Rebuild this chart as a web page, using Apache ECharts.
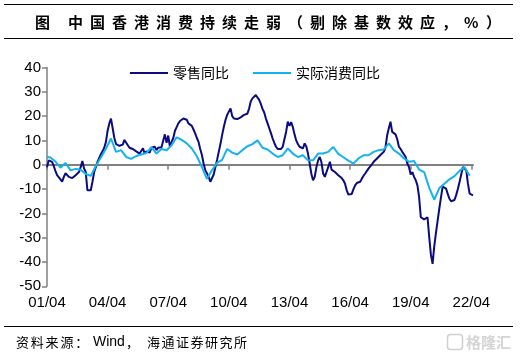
<!DOCTYPE html>
<html><head><meta charset="utf-8">
<script src="https://cdn.jsdelivr.net/npm/echarts/dist/echarts.min.js"></script>
<style>html,body{margin:0;padding:0;background:#fff}#c{width:523px;height:357px}</style>
</head><body><div id="c"></div>
<script>
// ---------- data ----------
const titleLead = '图';
const titleMain = '中国香港消费持续走弱（剔除基数效应，%）';
const sourceParts = ['资料来源：', 'Wind', '，', '海通证券研究所'];
const seriesNames = ['零售同比', '实际消费同比'];
const yTicks = [-50, -40, -30, -20, -10, 0, 10, 20, 30, 40];

// monthly categories 2001/04 .. 2022/05 (YY/MM)
const months = [];
for (let y = 2001, m = 4; y < 2022 || (y === 2022 && m <= 5); ) {
  months.push(String(y % 100).padStart(2, '0') + '/' + String(m).padStart(2, '0'));
  m++; if (m > 12) { m = 1; y++; }
}

// retail sales yoy (monthly, from 01/04)
const retail = [
  -1.0, 1.8, 2.0, 1.2, -0.5, -2.5, -4.3, -5.0, -6.0, -7.0,
  -5.0, -3.5, -3.2, -5.0, -5.7, -5.5, -4.8, -4.3, -3.8, -3.0,
  -1.0, 1.5, -1.5, -3.0, -10.5, -10.8, -10.5, -7.0, -3.0, -1.0,
  1.2, 2.8, 4.3, 5.5, 7.0, 9.4, 14.0, 17.0, 19.0, 15.0,
  11.0, 8.5, 8.0, 7.8, 7.5, 8.3, 10.2, 9.4, 8.0, 7.0,
  6.7, 6.5, 6.0, 5.5, 5.0, 4.6, 5.3, 6.8, 4.6, 5.5,
  6.0, 5.0, 7.0, 6.5, 7.4, 6.0, 7.0, 7.0, 7.2, 7.4,
  12.5, 9.0, 12.0, 7.4, 9.4, 11.0, 14.0, 15.5, 17.0, 18.0,
  18.5, 19.0, 19.8, 18.5, 17.0, 17.5, 16.0, 14.5, 12.9, 11.0,
  9.4, 6.5, 4.0, 0.5, -2.3, -3.5, -5.0, -7.0, -6.5, -4.0,
  -1.0, 2.0, 5.3, 8.5, 12.2, 15.5, 18.4, 20.5, 21.0, 23.2,
  20.0, 19.0, 18.4, 18.8, 19.0, 19.5, 19.0, 20.5, 19.8, 21.0,
  23.0, 26.0, 27.3, 28.0, 28.7, 28.3, 26.7, 25.0, 23.0, 21.5,
  19.0, 17.0, 15.0, 13.0, 10.8, 9.0, 7.4, 6.5, 6.0, 6.5,
  7.4, 10.5, 13.5, 17.7, 16.0, 17.5, 15.5, 12.5, 10.0, 8.5,
  7.4, 7.0, 6.7, 8.8, 7.5, 4.6, 0.5, -3.7, -6.4, -5.0,
  -1.0, 1.8, 3.2, 1.0, -3.6, -5.0, -3.0, -1.0, 1.2, -2.0,
  -1.2, -3.0, -3.6, -4.3, -5.0, -5.5, -6.4, -7.8, -10.5, -12.3,
  -12.6, -12.0, -10.0, -8.5, -7.5, -8.0, -7.0, -5.7, -4.5, -3.6,
  -2.5, -1.5, -0.9, 0.2, 1.2, 2.0, 2.6, 3.2, 4.0, 4.6,
  5.3, 7.0, 12.0, 15.0, 17.7, 13.5, 12.9, 12.5, 10.5, 7.4,
  6.5, 5.3, 4.5, 3.2, 0.5, -1.0, -4.0, -3.0, -5.0, -6.4,
  -8.5, -13.3, -21.6, -22.2, -22.5, -22.3, -21.6, -29.8, -37.0, -40.8,
  -33.5, -28.0, -23.0, -18.0, -13.3, -9.0, -8.9, -9.8, -12.0, -14.0,
  -15.0, -15.4, -14.5, -12.5, -10.0, -7.1, -4.0, -0.9, -0.3, -2.3,
  -7.8, -11.9, -12.3, -12.6
];

// real consumption yoy (quarterly, quarter-end months from 01/06; first point at 01/04)
const realStart = 3.2;
const realQ = [
  3.0, 1.3, -1.2, 0.7, -2.3, -1.7, -2.1, -3.8, -4.6, -0.5,
  3.0, 6.6, 10.8, 5.3, 6.0, 3.2, 2.4, 3.6, 4.2, 4.8,
  7.2, 4.6, 6.5, 6.0, 8.0, 11.3, 10.2, 8.8, 6.7, 3.5,
  -1.0, -5.8, -2.3, 0.8, 2.0, 6.5, 5.0, 4.2, 6.0, 7.6,
  8.5, 10.0, 7.0, 6.3, 4.6, 3.2, 3.9, 6.7, 4.6, 3.2,
  3.9, 1.8, 1.8, 4.6, 4.6, 5.3, 7.3, 4.5, 3.1, 1.7,
  0.5, 2.6, 3.9, 3.9, 5.3, 6.0, 6.3, 8.8, 6.0, 4.6,
  2.6, 1.2, 1.5, -2.0, -3.0, -9.5, -14.3, -9.6, -7.8, -6.0,
  -4.7, -2.5, -1.0, -4.5
];

// ---------- build ----------
const realData = [[months[0], realStart]];
realQ.forEach((v, k) => realData.push([months[2 + 3 * k], v]));

const showEvery = (i) => i % 36 === 0;
const CJK = '"Noto Sans CJK SC", sans-serif';
const LAT = '"Liberation Sans", Arial, sans-serif';
const DARK = '#0b0b80';
const LIGHT = '#14b2ee';

function spaced(str, x, y, pitch, style) {
  return Array.from(str).map((ch, i) => ({
    type: 'text', x: x + i * pitch, y: y, silent: true,
    style: Object.assign({ text: ch, align: 'left', verticalAlign: 'middle', fill: '#000' }, style)
  }));
}

const titleStyle = { fontSize: 15, fontWeight: 'bold', fontFamily: CJK };
const srcStyle = { fontSize: 13, fontFamily: CJK };

const graphics = [].concat(
  [
    { type: 'line', shape: { x1: 4, y1: 4.5, x2: 513, y2: 4.5 }, style: { stroke: '#000', lineWidth: 1.2 } },
    { type: 'line', shape: { x1: 4, y1: 38.5, x2: 513, y2: 38.5 }, style: { stroke: '#000', lineWidth: 1.2 } },
    { type: 'line', shape: { x1: 4, y1: 326.5, x2: 513, y2: 326.5 }, style: { stroke: '#000', lineWidth: 1.2 } }
  ],
  spaced(titleLead, 35, 22.5, 22, titleStyle),
  spaced(titleMain, 68, 22.5, 22, titleStyle),
  spaced(sourceParts[0], 16, 342, 14.8, srcStyle),
  [{ type: 'text', x: 93, y: 342, silent: true,
     style: { text: sourceParts[1], fontSize: 14, fontFamily: LAT, fill: '#000', align: 'left', verticalAlign: 'middle' } }],
  spaced(sourceParts[2], 126, 342, 14.5, srcStyle),
  spaced(sourceParts[3], 147, 342, 14.5, srcStyle),
  [
    { type: 'rect', shape: { x: 447.5, y: 334.5, width: 15, height: 15, r: 3 },
      style: { fill: 'none', stroke: '#cfcfcf', lineWidth: 1.5 } },
    { type: 'text', x: 466, y: 342, silent: true,
      style: { text: '格隆汇', fontSize: 15, fontWeight: 'bold', fontFamily: CJK, fill: '#d4d4d4', align: 'left', verticalAlign: 'middle' } }
  ]
);

const chart = echarts.init(document.getElementById('c'), null, { renderer: 'canvas' });
chart.setOption({
  animation: false,
  backgroundColor: '#fff',
  grid: { left: 47, top: 67.5, width: 426, height: 218.8, containLabel: false },
  legend: {
    data: [
      { name: seriesNames[0], icon: 'rect', itemStyle: { color: DARK } },
      { name: seriesNames[1], icon: 'rect', itemStyle: { color: LIGHT } }
    ],
    left: 125, top: 61,
    itemWidth: 38, itemHeight: 2, itemGap: 24,
    textStyle: { fontSize: 14, fontFamily: CJK, color: '#000' }
  },
  xAxis: [
    {
      type: 'category', data: months, boundaryGap: false,
      axisLine: { onZero: true, lineStyle: { color: '#808080', width: 2 } },
      axisTick: { show: true, interval: (i) => showEvery(i), length: 5, lineStyle: { color: '#808080', width: 1.5 } },
      axisLabel: { show: false },
      splitLine: { show: false }
    },
    {
      type: 'category', data: months, boundaryGap: false, position: 'bottom',
      axisLine: { show: false, onZero: false },
      axisTick: { show: false },
      axisLabel: { show: true, interval: (i) => showEvery(i), fontSize: 15, fontFamily: LAT, color: '#000', margin: 9 },
      splitLine: { show: false }
    }
  ],
  yAxis: {
    type: 'value', min: yTicks[0], max: yTicks[yTicks.length - 1], interval: 10,
    axisLine: { show: true, lineStyle: { color: '#808080', width: 1.5 } },
    axisTick: { show: true, length: 5, lineStyle: { color: '#808080', width: 1.5 } },
    axisLabel: { fontSize: 15, fontFamily: LAT, color: '#000', margin: 6 },
    splitLine: { show: false }
  },
  series: [
    { name: seriesNames[0], type: 'line', data: retail, symbol: 'none',
      lineStyle: { color: DARK, width: 2 }, itemStyle: { color: DARK } },
    { name: seriesNames[1], type: 'line', data: realData, symbol: 'none',
      lineStyle: { color: LIGHT, width: 2 }, itemStyle: { color: LIGHT } }
  ],
  graphic: graphics
});
</script></body></html>
